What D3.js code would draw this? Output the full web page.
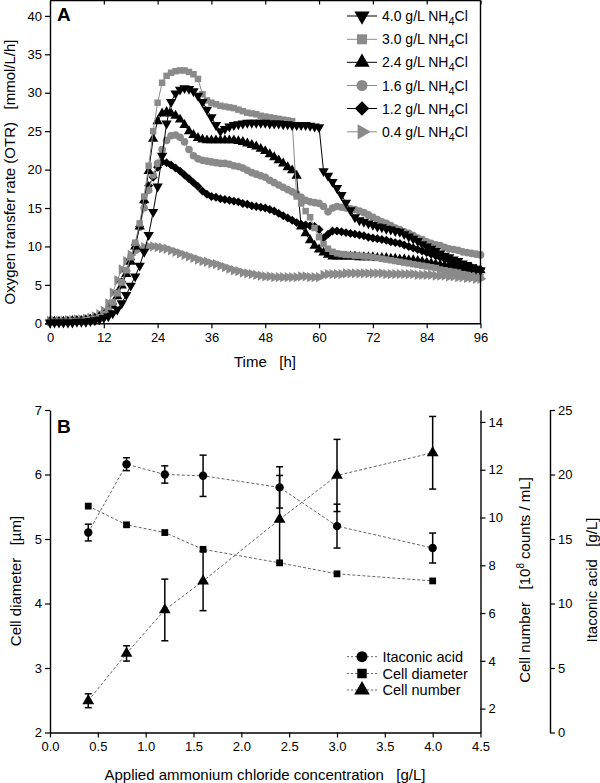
<!DOCTYPE html>
<html><head><meta charset="utf-8">
<script src="https://cdn.jsdelivr.net/npm/d3@7"></script>
<style>body{margin:0;background:#fff} svg{display:block;font-family:"Liberation Sans",Arial,Helvetica,sans-serif}</style>
</head><body><svg id="c" width="600" height="783"></svg>
<script>
// ---------- Panel A data (OTR, mmol/L/h, hourly samples 0..96 h) ----------
const hours = d3.range(0, 97, 1);
const timeTicks = [0, 12, 24, 36, 48, 60, 72, 84, 96];
const otrTicks = [0, 5, 10, 15, 20, 25, 30, 35, 40];

const otr40 = [0.1,0.1,0.1,0.1,0.1,0.1,0.2,0.2,0.2,0.3,
  0.4,0.5,0.7,0.9,1.3,1.8,2.6,3.7,4.9,6.1,
  7.5,9.3,11.5,14.5,17.8,21.8,26.0,28.8,29.9,30.4,
  30.6,30.5,30.2,29.6,28.8,27.8,26.8,25.8,25.0,25.3,
  25.6,25.8,25.9,26.0,26.1,26.1,26.1,26.1,26.1,26.0,
  26.0,26.0,25.9,25.9,25.8,25.8,25.8,25.8,25.7,25.6,
  25.5,19.8,19.2,18.4,17.6,16.7,15.7,14.7,13.8,13.4,
  13.2,13.0,12.8,12.6,12.5,12.3,12.2,12.0,11.9,11.6,
  11.3,11.0,10.7,10.3,10.0,9.7,9.4,9.1,8.8,8.6,
  8.3,8.1,7.8,7.6,7.3,7.1,6.9];
const otr30 = [0.2,0.2,0.2,0.2,0.2,0.3,0.3,0.3,0.4,0.5,
  0.6,0.8,1.2,1.8,2.7,3.9,5.3,6.9,8.6,10.5,
  13.0,16.5,20.5,25.0,28.7,31.3,32.2,32.6,32.8,32.9,
  32.9,32.7,32.4,31.8,29.8,29.0,28.7,28.5,28.3,28.2,
  28.1,28.0,27.8,27.6,27.4,27.3,27.2,27.0,26.9,26.8,
  26.7,26.6,26.5,26.4,26.3,16.5,15.6,14.6,13.8,12.4,
  11.2,10.3,9.7,9.3,9.1,9.0,8.9,8.9,8.8,8.8,
  8.7,8.7,8.6,8.5,8.4,8.3,8.2,8.1,8.0,7.9,
  7.8,7.7,7.6,7.5,7.4,7.3,7.2,7.0,6.9,6.8,
  6.7,6.6,6.4,6.3,6.2,6.1,6.0];
const otr24 = [0.2,0.2,0.2,0.2,0.2,0.3,0.3,0.3,0.4,0.5,
  0.6,0.8,1.0,1.5,2.3,3.5,4.9,6.4,8.0,10.0,
  12.6,16.0,19.8,24.0,26.3,27.3,27.5,27.3,27.0,26.5,
  25.8,25.0,24.5,24.1,23.9,23.8,23.8,23.8,23.8,23.8,
  23.8,23.8,23.7,23.6,23.4,23.2,23.0,22.7,22.4,22.0,
  21.6,21.2,20.8,20.3,19.9,19.2,12.6,11.7,10.8,10.1,
  9.6,9.2,8.9,8.7,8.7,8.7,8.7,8.7,8.7,8.6,
  8.6,8.6,8.6,8.5,8.5,8.5,8.4,8.4,8.3,8.3,
  8.2,8.2,8.1,8.0,7.9,7.8,7.7,7.6,7.5,7.5,
  7.4,7.3,7.2,7.1,7.0,7.0,6.9];
const otr16 = [0.2,0.2,0.2,0.2,0.2,0.3,0.3,0.3,0.4,0.5,
  0.6,0.8,1.1,1.7,2.6,3.9,5.3,6.8,8.4,10.3,
  12.5,15.0,17.3,19.3,20.8,22.6,23.8,24.4,24.5,24.2,
  23.6,22.6,21.8,21.4,21.2,21.1,21.0,20.9,20.8,20.8,
  20.7,20.5,20.4,20.2,19.9,19.6,19.4,19.2,19.0,18.6,
  18.3,18.0,17.7,17.4,17.1,16.8,16.4,16.0,15.8,15.7,
  15.6,15.2,14.5,15.0,15.2,15.1,15.0,14.9,14.8,14.6,
  14.4,14.1,13.8,13.5,13.2,13.0,12.7,12.4,12.2,11.9,
  11.7,11.4,11.1,10.9,10.6,10.4,10.2,10.1,9.9,9.7,
  9.6,9.5,9.3,9.2,9.1,9.0,8.9];
const otr12 = [0.2,0.2,0.2,0.2,0.2,0.3,0.3,0.4,0.4,0.5,
  0.7,0.9,1.1,1.7,2.5,4.0,5.4,6.8,8.3,10.2,
  12.6,15.8,17.9,19.0,20.3,21.0,20.9,20.6,20.2,19.8,
  19.3,18.8,18.3,17.8,17.2,16.8,16.5,16.4,16.2,16.1,
  16.0,15.9,15.8,15.6,15.5,15.3,15.2,15.1,15.0,14.8,
  14.6,14.3,14.0,13.7,13.4,13.1,12.9,12.8,12.7,12.6,
  12.2,11.1,11.6,12.0,12.0,11.9,11.8,11.7,11.6,11.5,
  11.4,11.2,11.1,11.0,10.9,10.8,10.6,10.5,10.4,10.2,
  10.0,9.8,9.6,9.4,9.2,9.0,8.8,8.6,8.4,8.2,
  8.0,7.8,7.6,7.4,7.3,7.1,7.0];
const otr04 = [0.3,0.3,0.3,0.3,0.4,0.4,0.5,0.5,0.6,0.7,
  0.9,1.2,1.6,2.6,4.0,5.6,7.0,8.1,8.9,9.4,
  9.7,9.9,10.0,10.0,9.9,9.8,9.7,9.5,9.3,9.1,
  8.9,8.7,8.5,8.3,8.1,8.0,7.8,7.7,7.5,7.3,
  7.1,6.9,6.8,6.6,6.5,6.4,6.3,6.2,6.1,6.1,
  6.0,6.0,6.0,6.0,6.0,6.0,6.1,6.1,6.0,6.0,
  6.0,6.3,6.4,6.4,6.4,6.4,6.5,6.5,6.5,6.5,
  6.5,6.5,6.5,6.5,6.5,6.4,6.4,6.4,6.4,6.4,
  6.4,6.4,6.3,6.3,6.3,6.3,6.2,6.2,6.2,6.1,
  6.1,6.0,6.0,5.9,5.9,5.8,5.8];
const seriesNames = ["4.0", "3.0", "2.4", "1.6", "1.2", "0.4"];

// ---------- Panel B data ----------
const conc = [0.4, 0.8, 1.2, 1.6, 2.4, 3.0, 4.0];
const concTicks = [0, 0.5, 1, 1.5, 2, 2.5, 3, 3.5, 4, 4.5];
const itaconic = [15.5, 20.8, 20.0, 19.9, 19.0, 16.0, 14.3];
const itaconicErr = [0.65, 0.5, 0.67, 1.6, 1.6, 1.7, 1.16];
const diameter = [5.51, 5.22, 5.10, 4.84, 4.63, 4.46, 4.35];
const cellNumber = [2.33, 4.31, 6.13, 7.34, 9.92, 11.76, 12.71];
const cellNumberErr = [0.29, 0.32, 1.29, 1.24, 1.84, 1.51, 1.52];
const diamTicks = [2, 3, 4, 5, 6, 7];
const cellTicks = [2, 4, 6, 8, 10, 12, 14];
const itaTicks = [0, 5, 10, 15, 20, 25];

// ---------- drawing ----------
const svg = d3.select('#c');
const GREY = '#8a8a8a';
const FONT = '"Liberation Sans", Arial, Helvetica, sans-serif';

function styleAxis(g, fs) {
  g.selectAll('path.domain').attr('stroke', '#000').attr('stroke-width', 1.4);
  g.selectAll('.tick line').attr('stroke', '#000').attr('stroke-width', 1.2);
  g.selectAll('.tick text').attr('font-size', fs).attr('font-family', FONT).attr('fill', '#000');
}

const SYM = {
  down: {type: d3.symbolTriangle, rot: 180},
  square: {type: d3.symbolSquare, rot: 0},
  up: {type: d3.symbolTriangle, rot: 0},
  circle: {type: d3.symbolCircle, rot: 0},
  diamond: {type: d3.symbolSquare, rot: 45},
  right: {type: d3.symbolTriangle, rot: 90}
};
function drawSym(g, x, y, s, size, color) {
  g.append('path')
    .attr('d', d3.symbol().type(SYM[s].type).size(size)())
    .attr('transform', `translate(${x},${y}) rotate(${SYM[s].rot})`)
    .attr('fill', color);
}

// ===== Panel A =====
const xA = d3.scaleLinear().domain([0, 96]).range([50, 480.5]);
const yA = d3.scaleLinear().domain([0, 42]).range([323.3, 0.5]);

const seriesA = [
  {name: seriesNames[0], data: otr40, sym: 'down', color: '#000', size: 46},
  {name: seriesNames[1], data: otr30, sym: 'square', color: GREY, size: 42},
  {name: seriesNames[2], data: otr24, sym: 'up', color: '#000', size: 46},
  {name: seriesNames[3], data: otr16, sym: 'circle', color: GREY, size: 46},
  {name: seriesNames[4], data: otr12, sym: 'diamond', color: '#000', size: 40},
  {name: seriesNames[5], data: otr04, sym: 'right', color: GREY, size: 46}
];

const gA = svg.append('g');
const lineA = d3.line().x((d, i) => xA(hours[i])).y(d => yA(d));
[...seriesA].reverse().forEach(s => {
  gA.append('path').attr('d', lineA(s.data)).attr('fill', 'none')
    .attr('stroke', s.color).attr('stroke-width', 1);
  const gs = gA.append('g');
  s.data.forEach((v, i) => drawSym(gs, xA(hours[i]), yA(v), s.sym, s.size, s.color));
});

// frame
gA.append('line').attr('x1', xA(0)).attr('x2', xA(96)).attr('y1', yA(42)).attr('y2', yA(42)).attr('stroke', '#000').attr('stroke-width', 1.4);
gA.append('line').attr('x1', xA(96)).attr('x2', xA(96)).attr('y1', yA(42)).attr('y2', yA(0)).attr('stroke', '#000').attr('stroke-width', 1.4);
const axTopA = svg.append('g').attr('transform', `translate(0,${yA(42)})`)
  .call(d3.axisTop(xA).tickValues(timeTicks).tickSize(-4).tickFormat(''));
styleAxis(axTopA, 13);
axTopA.select('path.domain').remove();

const axXA = svg.append('g').attr('transform', `translate(0,${yA(0)})`)
  .call(d3.axisBottom(xA).tickValues(timeTicks).tickSize(5).tickPadding(4).tickSizeOuter(0));
styleAxis(axXA, 13);
const axYA = svg.append('g').attr('transform', `translate(${xA(0)},0)`)
  .call(d3.axisLeft(yA).tickValues(otrTicks).tickSize(5).tickPadding(3).tickSizeOuter(0));
styleAxis(axYA, 13);

svg.append('text').attr('x', 57).attr('y', 21).attr('font-size', 19).attr('font-weight', 'bold')
  .attr('font-family', FONT).text('A');
svg.append('text').attr('x', 265).attr('y', 367).attr('text-anchor', 'middle').attr('font-size', 15)
  .attr('font-family', FONT).style('white-space', 'pre').text('Time   [h]');
svg.append('text').attr('transform', 'translate(15,172) rotate(-90)').attr('text-anchor', 'middle')
  .attr('font-size', 15).attr('font-family', FONT).style('white-space', 'pre')
  .text('Oxygen transfer rate (OTR)   [mmol/L/h]');

// legend A
const legY = [16, 39.3, 62.3, 85.5, 108.5, 131.8];
const legSize = {down: 100, square: 100, up: 100, circle: 95, diamond: 105, right: 100};
seriesA.forEach((s, i) => {
  const y = legY[i];
  svg.append('line').attr('x1', 347).attr('x2', 377).attr('y1', y).attr('y2', y)
    .attr('stroke', s.color).attr('stroke-width', 1);
  drawSym(svg, 362, y, s.sym, legSize[s.sym], s.color);
  const t = svg.append('text').attr('x', 382).attr('y', y + 5).attr('font-size', 14).attr('font-family', FONT);
  t.append('tspan').text(s.name + ' g/L NH');
  t.append('tspan').attr('dy', 4).attr('font-size', 11).text('4');
  t.append('tspan').attr('dy', -4).text('Cl');
});

// ===== Panel B =====
const xB = d3.scaleLinear().domain([0, 4.5]).range([50, 480.5]);
const yDiam = d3.scaleLinear().domain([2, 7]).range([732.5, 410]);
const yCell = d3.scaleLinear().domain([1, 14.5]).range([732.5, 410]);
const yIta = d3.scaleLinear().domain([0, 25]).range([732.5, 410]);

const gB = svg.append('g');
const dashLine = (ys, vals) => d3.line().x((d, i) => xB(conc[i])).y(d => ys(d))(vals);
[[yIta, itaconic], [yDiam, diameter], [yCell, cellNumber]].forEach(([ys, vals]) => {
  gB.append('path').attr('d', dashLine(ys, vals)).attr('fill', 'none')
    .attr('stroke', '#666').attr('stroke-width', 1).attr('stroke-dasharray', '3,2');
});
function errBars(ys, vals, errs) {
  vals.forEach((v, i) => {
    const x = xB(conc[i]), y1 = ys(v - errs[i]), y2 = ys(v + errs[i]);
    gB.append('line').attr('x1', x).attr('x2', x).attr('y1', y1).attr('y2', y2).attr('stroke', '#000').attr('stroke-width', 1.5);
    [y1, y2].forEach(yy => gB.append('line').attr('x1', x - 3.5).attr('x2', x + 3.5).attr('y1', yy).attr('y2', yy)
      .attr('stroke', '#000').attr('stroke-width', 1.5));
  });
}
errBars(yIta, itaconic, itaconicErr);
errBars(yCell, cellNumber, cellNumberErr);
itaconic.forEach((v, i) => drawSym(gB, xB(conc[i]), yIta(v), 'circle', 55, '#000'));
diameter.forEach((v, i) => drawSym(gB, xB(conc[i]), yDiam(v), 'square', 46, '#000'));
cellNumber.forEach((v, i) => drawSym(gB, xB(conc[i]), yCell(v), 'up', 60, '#000'));

const axXB = svg.append('g').attr('transform', `translate(0,${yDiam(2)})`)
  .call(d3.axisBottom(xB).tickValues(concTicks).tickFormat(d3.format('.1f')).tickSize(5).tickPadding(4).tickSizeOuter(0));
styleAxis(axXB, 13);
const axYB = svg.append('g').attr('transform', `translate(${xB(0)},0)`)
  .call(d3.axisLeft(yDiam).tickValues(diamTicks).tickFormat(d3.format('d')).tickSize(5).tickPadding(3).tickSizeOuter(0));
styleAxis(axYB, 13);
const axCell = svg.append('g').attr('transform', `translate(${xB(4.5)},0)`)
  .call(d3.axisRight(yCell).tickValues(cellTicks).tickFormat(d3.format('d')).tickSize(5).tickPadding(3).tickSizeOuter(0));
styleAxis(axCell, 13);
const axIta = svg.append('g').attr('transform', 'translate(550,0)')
  .call(d3.axisRight(yIta).tickValues(itaTicks).tickFormat(d3.format('d')).tickSize(5).tickPadding(3).tickSizeOuter(0));
styleAxis(axIta, 13);

svg.append('text').attr('x', 57).attr('y', 433).attr('font-size', 19).attr('font-weight', 'bold')
  .attr('font-family', FONT).text('B');
svg.append('text').attr('x', 265).attr('y', 780).attr('text-anchor', 'middle').attr('font-size', 15)
  .attr('font-family', FONT).style('white-space', 'pre').text('Applied ammonium chloride concentration   [g/L]');
svg.append('text').attr('transform', 'translate(21,581) rotate(-90)').attr('text-anchor', 'middle')
  .attr('font-size', 15).attr('font-family', FONT).style('white-space', 'pre').text('Cell diameter   [µm]');
const cl = svg.append('text').attr('transform', 'translate(530,580) rotate(-90)').attr('text-anchor', 'middle')
  .attr('font-size', 15).attr('font-family', FONT).style('white-space', 'pre');
cl.append('tspan').text('Cell number   [10');
cl.append('tspan').attr('dy', -6).attr('font-size', 10).text('8');
cl.append('tspan').attr('dy', 6).text(' counts / mL]');
svg.append('text').attr('transform', 'translate(597,580) rotate(-90)').attr('text-anchor', 'middle')
  .attr('font-size', 15).attr('font-family', FONT).style('white-space', 'pre').text('Itaconic acid   [g/L]');

// legend B
const legB = [
  {label: 'Itaconic acid', sym: 'circle', size: 95, y: 656.7},
  {label: 'Cell diameter', sym: 'square', size: 90, y: 673.5},
  {label: 'Cell number', sym: 'up', size: 105, y: 690}
];
legB.forEach(l => {
  svg.append('line').attr('x1', 347).attr('x2', 377).attr('y1', l.y).attr('y2', l.y)
    .attr('stroke', '#666').attr('stroke-width', 1).attr('stroke-dasharray', '2,2');
  drawSym(svg, 362, l.y, l.sym, l.size, '#000');
  svg.append('text').attr('x', 382.5).attr('y', l.y + 5).attr('font-size', 14.5).attr('font-family', FONT).text(l.label);
});
</script></body></html>
